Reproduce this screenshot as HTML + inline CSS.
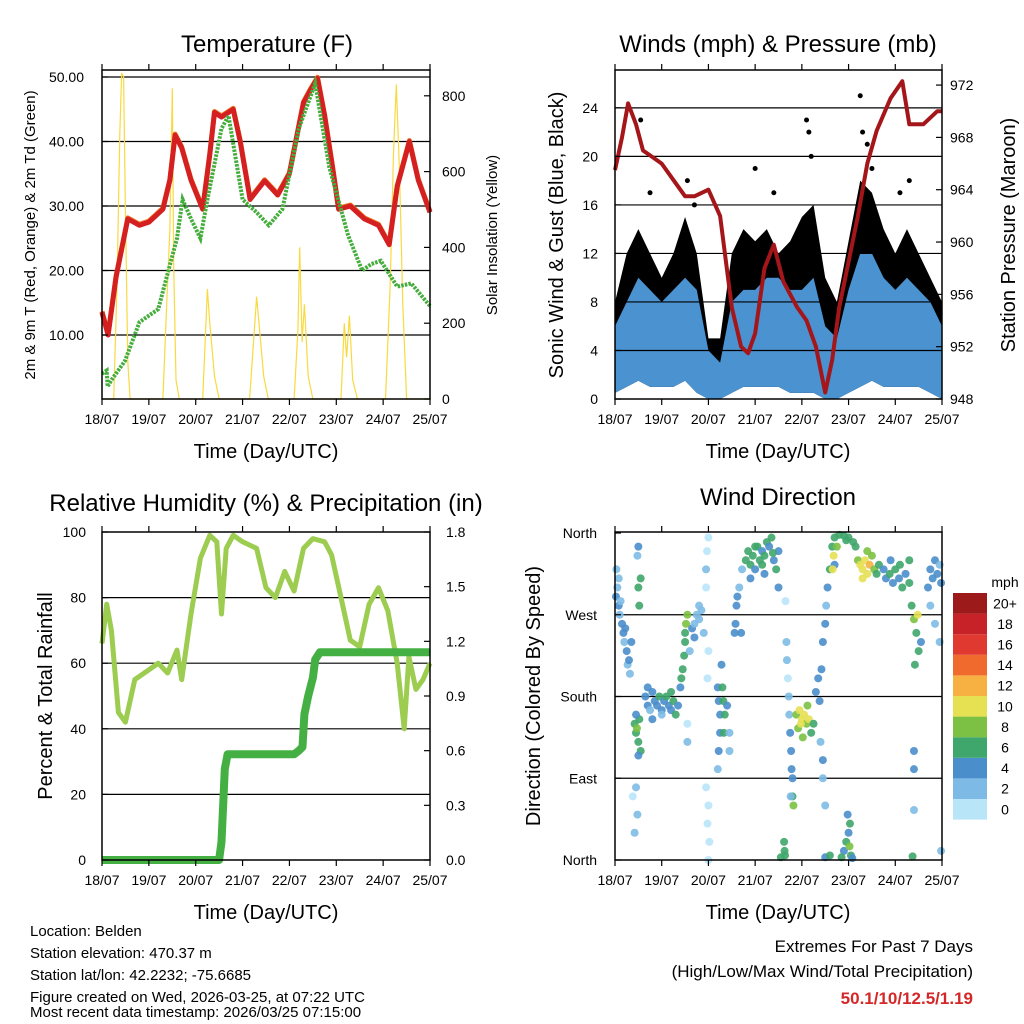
<!DOCTYPE html>
<html><head><meta charset="utf-8"><style>
body{margin:0;background:#fff}
svg{display:block;font-family:"Liberation Sans",sans-serif}
</style></head><body>
<svg id="c" width="1024" height="1024" viewBox="0 0 1024 1024">
<rect width="1024" height="1024" fill="#fff"/>
<text x="267" y="52" font-size="24" text-anchor="middle">Temperature (F)</text>
<text x="778" y="52" font-size="24" text-anchor="middle">Winds (mph) &amp; Pressure (mb)</text>
<text x="266" y="511" font-size="24" text-anchor="middle">Relative Humidity (%) &amp; Precipitation (in)</text>
<text x="778" y="505" font-size="24" text-anchor="middle">Wind Direction</text>
<text x="266" y="458" font-size="20" text-anchor="middle">Time (Day/UTC)</text>
<text x="778" y="458" font-size="20" text-anchor="middle">Time (Day/UTC)</text>
<text x="266" y="919" font-size="20" text-anchor="middle">Time (Day/UTC)</text>
<text x="778" y="919" font-size="20" text-anchor="middle">Time (Day/UTC)</text>
<text transform="translate(35,235) rotate(-90)" font-size="15" text-anchor="middle">2m &amp; 9m T (Red, Orange) &amp; 2m Td (Green)</text>
<text transform="translate(497,235) rotate(-90)" font-size="15" text-anchor="middle">Solar Insolation (Yellow)</text>
<text transform="translate(563,235) rotate(-90)" font-size="20" text-anchor="middle">Sonic Wind &amp; Gust (Blue, Black)</text>
<text transform="translate(1015,235) rotate(-90)" font-size="20" text-anchor="middle">Station Pressure (Maroon)</text>
<text transform="translate(52,696) rotate(-90)" font-size="20" text-anchor="middle">Percent &amp; Total Rainfall</text>
<text transform="translate(540,696) rotate(-90)" font-size="20" text-anchor="middle">Direction (Colored By Speed)</text>
<g font-size="15">
<text x="30" y="936">Location: Belden</text>
<text x="30" y="958">Station elevation: 470.37 m</text>
<text x="30" y="980">Station lat/lon: 42.2232; -75.6685</text>
<text x="30" y="1002">Figure created on Wed, 2026-03-25, at 07:22 UTC</text>
<text x="30" y="1017">Most recent data timestamp: 2026/03/25 07:15:00</text>
</g>
<text x="973" y="952" font-size="17" text-anchor="end">Extremes For Past 7 Days</text>
<text x="973" y="977" font-size="17" text-anchor="end">(High/Low/Max Wind/Total Precipitation)</text>
<text x="973" y="1004" font-size="17" font-weight="bold" fill="#d42828" text-anchor="end">50.1/10/12.5/1.19</text>
</svg>
<script>
// ---------- data ----------
const dayLabels=["18/07","19/07","20/07","21/07","22/07","23/07","24/07","25/07"];
const tempDays=[0,0.13,0.3,0.55,0.8,1.0,1.3,1.45,1.56,1.7,1.9,2.15,2.3,2.4,2.55,2.8,2.95,3.16,3.47,3.75,4.0,4.3,4.45,4.6,4.75,4.92,5.05,5.3,5.6,5.9,6.13,6.3,6.56,6.75,7.0];
const tempVals=[13.5,10,19,28,27,27.5,29.5,34,41,39,34,29.5,38,44.5,43.8,45,40,31,33.9,31.7,35,46,48,49.8,44,36,29.5,30,28,27,24,33,40,34,29];
const dewDays=[0,0.1,0.12,0.2,0.49,0.8,1.2,1.4,1.6,1.72,1.9,2.1,2.25,2.55,2.7,3.0,3.3,3.56,3.85,4.2,4.55,4.85,5.25,5.55,5.75,5.95,6.3,6.6,7.0];
const dewVals=[4,4.5,2,3,6,12,14,19.5,25,31,28,25,31,42,44,31,29,27,29.5,42,49,36,25.5,20,21,21.5,17.5,18,14.5];
const solarDays=[0,0.25,0.32,0.38,0.42,0.46,0.5,0.55,0.6,1.3,1.38,1.45,1.5,1.53,1.58,1.65,2.15,2.25,2.3,2.4,2.5,3.15,3.25,3.3,3.35,3.45,3.55,4.1,4.18,4.22,4.27,4.32,4.4,4.5,5.1,5.17,5.22,5.28,5.35,5.45,6.05,6.15,6.22,6.28,6.35,6.42,6.5,7];
const solarVals=[0,0,300,700,860,850,500,100,0,0,250,450,820,350,50,0,0,290,200,60,0,0,180,270,200,60,0,0,180,400,150,250,60,0,0,200,110,220,50,0,0,300,650,830,600,250,0,0];
const windDays=[0,0.25,0.5,0.75,1,1.25,1.5,1.75,2,2.25,2.5,2.75,3,3.25,3.5,3.75,4,4.25,4.5,4.75,5,5.25,5.5,5.75,6,6.25,6.5,6.75,7];
const gustHi=[8,12,14,12,10,12,15,12,5,5,12,14,13,14,12,13,15,16,10,8,13,18,17,14,12,14,12,10,8];
const sonicHi=[6,8,10,9,8,9,10,9,4,3,8,9,9,10,10,9,9,10,6,5,9,12,12,10,9,10,9,8,6];
const sonicLo=[0.5,1,1.5,1,1,1,1.5,0.5,0,0,0.5,1,1,1,1,0.5,0.5,0.5,0,0,0.5,1,1.5,1,1,1,1,0.5,0];
const gustOutDays=[0.55,0.75,1.55,1.7,3.0,3.4,4.1,4.15,4.2,5.25,5.3,5.4,5.5,6.1,6.3];
const gustOutVals=[23,17,18,16,19,17,23,22,20,25,22,21,19,17,18];
const presDays=[0,0.15,0.28,0.45,0.6,0.8,1.0,1.3,1.5,1.7,2.0,2.25,2.5,2.7,2.85,3.0,3.2,3.4,3.6,3.9,4.1,4.3,4.5,4.65,4.8,5.0,5.2,5.4,5.6,5.9,6.15,6.3,6.6,6.9,7.0];
const presVals=[965.5,968,970.6,969,967,966.5,966,964.5,963.5,963.5,964,962,955,952,951.5,953,958,959.8,957,955,954,952,948.5,951,955,958.5,962,966,968.5,971,972.3,969,969,970,970];
const rhDays=[0,0.1,0.2,0.35,0.5,0.7,1.0,1.2,1.4,1.6,1.7,1.9,2.1,2.3,2.45,2.55,2.65,2.8,3.0,3.3,3.5,3.7,3.9,4.1,4.3,4.5,4.75,4.9,5.1,5.3,5.5,5.7,5.9,6.1,6.3,6.45,6.55,6.7,6.85,7];
const rhVals=[66,78,70,45,42,55,58,60,57,64,55,75,92,99,97,75,95,99,97,95,83,80,88,82,95,98,97,93,80,67,65,78,83,76,60,40,62,52,55,60];
const rainDays=[0,2.5,2.55,2.62,2.68,4.1,4.2,4.28,4.32,4.4,4.5,4.55,4.65,7];
const rainVals=[0,0,0.1,0.5,0.58,0.58,0.6,0.62,0.8,0.9,1.0,1.1,1.14,1.14];
const dirDays=[0.02,0.05,0.08,0.1,0.12,0.15,0.18,0.2,0.22,0.25,0.27,0.3,0.32,0.35,0.08,0.03,
0.42,0.45,0.47,0.5,0.52,0.55,0.5,0.45,0.45,0.48,0.42,0.38,0.5,0.48,0.55,0.5,0.52,
0.65,0.7,0.75,0.8,0.85,0.9,0.95,1.0,1.05,1.1,1.15,1.2,1.25,1.3,1.35,0.8,1.0,0.7,1.2,
1.4,1.42,1.45,1.48,1.5,1.52,1.55,1.5,1.65,1.7,1.75,1.8,1.85,1.9,1.7,1.8,1.6,1.55,1.55,
1.95,1.97,2.0,1.95,2.0,1.98,2.0,1.98,2.02,1.95,2.0,
2.2,2.22,2.25,2.25,2.22,2.3,2.32,2.35,2.33,2.4,2.45,2.45,2.2,2.28,
2.58,2.62,2.66,2.56,2.6,2.72,2.7,
2.8,2.85,2.9,2.95,3.0,3.05,3.1,3.15,3.2,3.25,3.3,3.35,3.4,3.45,3.5,2.9,3.2,3.5,3.0,3.15,3.38,
3.65,3.67,3.68,3.7,3.72,3.62,3.63,3.64,3.55,
3.73,3.75,3.77,3.78,3.8,3.8,3.82,3.76,
3.88,3.95,4.0,4.05,4.1,4.12,3.92,4.15,4.2,4.25,4.02,3.98,
4.3,4.35,4.38,4.42,4.4,4.45,4.45,4.5,4.52,4.55,4.6,4.45,4.5,
4.9,4.95,5.0,5.02,5.05,4.98,5.08,4.85,5.03,4.5,4.6,
4.65,4.7,4.8,4.9,5.0,5.1,4.68,4.7,4.66,5.15,4.75,4.95,
5.2,5.25,5.3,5.35,5.4,5.45,5.5,5.55,5.6,5.3,5.4,5.65,
5.75,5.8,5.88,5.95,6.0,6.08,6.15,6.22,6.3,5.9,6.1,6.3,
6.35,6.4,6.45,6.5,6.48,6.55,6.42,6.4,6.4,6.4,6.37,
6.7,6.75,6.8,6.85,6.9,6.95,6.98,6.75,6.85,6.95,6.98];
const dirDegs=[290,300,280,270,285,260,250,240,255,230,215,220,205,240,310,320,
150,140,145,130,155,120,115,160,80,50,30,70,345,335,310,300,280,
180,170,165,185,175,170,180,165,175,180,170,165,175,160,170,155,160,190,185,
190,200,210,225,240,260,270,250,255,260,270,265,275,250,245,280,230,150,130,
320,340,355,300,230,200,60,40,20,80,0,
190,175,160,140,120,190,175,160,140,170,140,120,100,215,
260,290,300,250,280,320,250,
330,340,325,335,320,345,330,340,335,350,345,355,330,320,340,310,315,300,345,325,338,
285,240,220,200,180,20,10,5,3,
160,140,120,100,90,70,60,70,
160,165,155,160,150,170,145,155,140,150,135,150,
185,200,175,210,130,110,240,260,280,300,320,90,60,
10,20,30,15,5,50,2,3,40,3,5,
345,355,358,357,355,350,335,325,320,345,345,352,
330,325,320,330,315,325,335,320,315,310,340,325,
320,310,315,305,320,310,300,315,305,330,325,330,
280,265,250,230,270,240,215,120,100,55,4,
300,320,310,330,315,325,305,280,260,240,10];
const dirSpeeds=[4,3,4,3,2,4,4,3,4,4,3,4,2,4,2,3,
7,6,9,6,7,6,5,5,2,3,3,1,4,3,6,7,6,
4,4,3,4,5,4,6,4,4,6,4,5,7,6,4,4,3,4,6,
5,6,7,6,7,8,9,6,4,3,2,3,2,2,4,2,3,1,2,
2,1,1,1,1,1,0,1,1,1,1,
5,4,4,4,4,7,7,7,6,4,3,3,2,4,
4,4,3,4,5,3,4,
6,6,7,6,4,7,6,4,7,6,4,7,4,6,4,4,4,4,7,6,6,
1,2,2,1,2,6,6,6,6,
2,4,4,4,4,6,8,2,
8,10,10,10,8,8,8,10,6,6,8,11,
4,4,4,4,2,4,4,4,2,4,6,2,2,
4,6,4,8,6,4,4,6,6,4,6,
6,6,6,6,6,6,10,4,10,6,8,6,
8,10,10,10,10,12,8,8,6,10,8,6,
4,4,6,4,6,4,6,4,6,4,6,6,
6,8,6,6,10,4,6,4,4,2,6,
4,4,4,4,4,2,4,2,2,2,2];
const speedColors=["#b9e5f9","#7dbbe6","#4a8ecb","#3fa66c","#7cc143","#e6e053","#f6b142","#f06a2e","#e03a30","#c62228","#9c1a1a"];
const speedLabels=["0","2","4","6","8","10","12","14","16","18","20+"];
const tempTicks=[10,20,30,40,50], tempTickLabels=["10.00","20.00","30.00","40.00","50.00"];
const solarTicks=[0,200,400,600,800];
const windTicks=[0,4,8,12,16,20,24];
const presTicks=[948,952,956,960,964,968,972];
const rhTicks=[0,20,40,60,80,100];
const rainTicks=[0,0.3,0.6,0.9,1.2,1.5,1.8], rainTickLabels=["0.0","0.3","0.6","0.9","1.2","1.5","1.8"];
const dirTicks=[0,90,180,270,360], dirTickLabels=["North","East","South","West","North"];

// ---------- helpers ----------
const NS="http://www.w3.org/2000/svg", svg=document.getElementById('c');
function mk(tag,attrs,parent){const e=document.createElementNS(NS,tag);for(const k in attrs)e.setAttribute(k,attrs[k]);(parent||svg).appendChild(e);return e;}
function line(xs,ys,fx,fy){return xs.map((d,i)=>fx(d).toFixed(1)+","+fy(ys[i]).toFixed(1)).join(" ");}
const P1={x0:102,x1:430,y0:70,y1:399}, P2={x0:615,x1:942,y0:70,y1:399}, P3={x0:102,x1:430,y0:532,y1:860}, P4={x0:615,x1:942,y0:532,y1:860};
function xsc(P){return d=>P.x0+d/7*(P.x1-P.x0);}
const y1T=v=>399.5-v*6.45, y1S=v=>399-v*0.379;
const y2W=v=>399-v*12.13, y2P=v=>399-(v-948)*13.08;
const y3R=v=>860-v*3.28, y3P=v=>860-v/1.8*328;
const y4D=v=>860-v/360*327;

function grid(P,vals,fy,name){
  const g=mk('g',{});
  
  
  vals.forEach(v=>{const y=fy(v); if(y>P.y0+1&&y<P.y1-1){
    const l=mk('line',{x1:P.x0,x2:P.x1,y1:y,y2:y,stroke:'#000','stroke-width':1.2},g);
    
    
  }});
}
function frame(P,name){
  const fx=xsc(P);
  const g=mk('g',{});
  
  
  const r=mk('rect',{x:P.x0,y:P.y0,width:P.x1-P.x0,height:P.y1-P.y0,fill:'none',stroke:'#000','stroke-width':1.5},g);
  
  
  dayLabels.forEach((lab,i)=>{
    const x=fx(i);
    const t=mk('line',{x1:x,x2:x,y1:P.y1,y2:P.y1+6,stroke:'#000','stroke-width':1.2},g);
    
    
    const t2=mk('line',{x1:x,x2:x,y1:P.y0,y2:P.y0-6,stroke:'#000','stroke-width':1.2},g);
    
    
    const tx=mk('text',{x:x,y:P.y1+25,'font-size':14,'text-anchor':'middle'},g);
    tx.textContent=lab;
    
    
  });
}
function yLabels(vals,labels,fy,x,anchor,name,tick){
  const g=mk('g',{});
  
  
  vals.forEach((v,i)=>{
    const y=fy(v);
    const t=mk('text',{x:x,y:y+5,'font-size':14,'text-anchor':anchor},g);
    t.textContent=labels[i];
    
    
    if(tick){const l=mk('line',{x1:tick[0],x2:tick[1],y1:y,y2:y,stroke:'#000','stroke-width':1.2},g);
      
      }
  });
}

// ---------- panel 1: temperature ----------
(function(){
  const P=P1, fx=xsc(P);
  grid(P,tempTicks,y1T,'temp-gridlines');
  const s=mk('polyline',{points:line(solarDays,solarVals,fx,y1S),fill:'none',stroke:'#f8da40','stroke-width':1.2});
  
  
  const o=mk('polyline',{points:line(tempDays,tempVals,fx,v=>y1T(v)-1),fill:'none',stroke:'#f07a28','stroke-width':5,'stroke-linejoin':'round'});
  
  
  const r=mk('polyline',{points:line(tempDays,tempVals,fx,y1T),fill:'none',stroke:'#d42020','stroke-width':5,'stroke-linejoin':'round'});
  
  
  const d=mk('polyline',{points:line(dewDays,dewVals,fx,y1T),fill:'none',stroke:'#44ad3c','stroke-width':4,'stroke-dasharray':'2.5 1.2'});
  
  
  frame(P,'temp-axes');
  yLabels(tempTicks,tempTickLabels,y1T,84,'end','temp-y-ticks',[P.x0,P.x0+6]);
  yLabels(solarTicks,solarTicks.map(String),y1S,442,'start','solar-y-ticks',[P.x1,P.x1-6]);
})();

// ---------- panel 2: winds ----------
(function(){
  const P=P2, fx=xsc(P);
  const gp=windDays.map((d,i)=>fx(d)+","+y2W(gustHi[i])).concat(windDays.slice().reverse().map((d,j)=>{const i=windDays.length-1-j;return fx(d)+","+y2W(sonicLo[i]);})).join(" ");
  const g=mk('polygon',{points:gp,fill:'#000'});
  
  
  gustOutDays.forEach((d,i)=>{
    const c=mk('circle',{cx:fx(d),cy:y2W(gustOutVals[i]),r:2.5,fill:'#000'});
    
    
  });
  const bp=windDays.map((d,i)=>fx(d)+","+y2W(sonicHi[i])).concat(windDays.slice().reverse().map((d,j)=>{const i=windDays.length-1-j;return fx(d)+","+y2W(sonicLo[i]);})).join(" ");
  const b=mk('polygon',{points:bp,fill:'#4a92d0'});
  
  
  grid(P,windTicks,y2W,'wind-gridlines');
  const p=mk('polyline',{points:line(presDays,presVals,fx,y2P),fill:'none',stroke:'#a4161a','stroke-width':4,'stroke-linejoin':'round'});
  
  
  frame(P,'wind-axes');
  yLabels(windTicks,windTicks.map(String),y2W,598,'end','wind-y-ticks',[P.x0,P.x0+6]);
  yLabels(presTicks,presTicks.map(String),y2P,950,'start','pressure-y-ticks',[P.x1,P.x1-6]);
})();

// ---------- panel 3: humidity & rain ----------
(function(){
  const P=P3, fx=xsc(P);
  grid(P,rhTicks,y3R,'humidity-gridlines');
  const r=mk('polyline',{points:line(rhDays,rhVals,fx,y3R),fill:'none',stroke:'#9ccc50','stroke-width':5,'stroke-linejoin':'round'});
  
  
  const p=mk('polyline',{points:line(rainDays,rainVals,fx,y3P),fill:'none',stroke:'#44b044','stroke-width':8,'stroke-linejoin':'round'});
  
  
  frame(P,'humidity-axes');
  yLabels(rhTicks,rhTicks.map(String),y3R,86,'end','humidity-y-ticks',[P.x0,P.x0+6]);
  yLabels(rainTicks,rainTickLabels,y3P,446,'start','rain-y-ticks',[P.x1,P.x1-6]);
})();

// ---------- panel 4: wind direction ----------
(function(){
  const P=P4, fx=xsc(P);
  grid(P,dirTicks,y4D,'direction-gridlines');
  dirDays.forEach((d,i)=>{
    const ci=Math.min(10,Math.floor(dirSpeeds[i]/2));
    const c=mk('circle',{cx:fx(d),cy:y4D(dirDegs[i]),r:4,fill:speedColors[ci],'fill-opacity':0.9});
    
    
  });
  frame(P,'direction-axes');
  yLabels(dirTicks,dirTickLabels,y4D,597,'end','direction-y-ticks',[P.x0,P.x0+6]);
  const cb=mk('g',{});
  
  
  const h=20.6, top=593;
  speedColors.forEach((col,i)=>{
    const y=top+(10-i)*h;
    const r=mk('rect',{x:953,y:y,width:34,height:h,fill:col},cb);
    
    
    const t=mk('text',{x:1005,y:y+h/2+5,'font-size':14,'text-anchor':'middle'},cb);
    t.textContent=speedLabels[i];
    
    
  });
  const m=mk('text',{x:1005,y:587,'font-size':14,'text-anchor':'middle'},cb);
  m.textContent='mph';
  
  
})();
</script>
</body></html>
